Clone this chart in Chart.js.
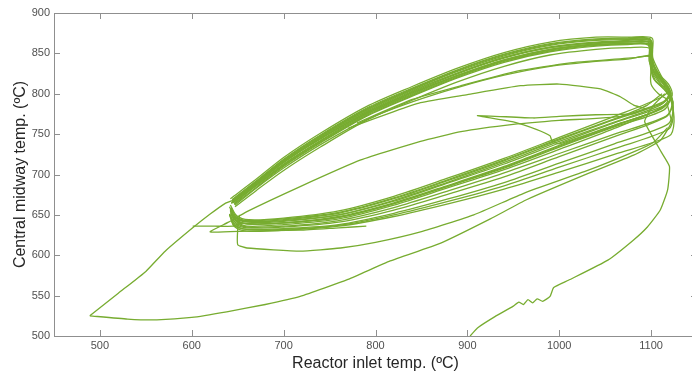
<!DOCTYPE html>
<html>
<head>
<meta charset="utf-8">
<script src="https://cdn.jsdelivr.net/npm/chart.js@4.4.1/dist/chart.umd.min.js"></script>
<style>
  html, body { margin: 0; padding: 0; background: #ffffff; overflow: hidden; }
  canvas { display: block; }
</style>
</head>
<body>
<canvas id="loops" width="698" height="377"></canvas>
<script>
'use strict'

// axis ticks
const xTicks = [500, 600, 700, 800, 900, 1000, 1100]
const yTicks = [500, 550, 600, 650, 700, 750, 800, 850, 900]

// [inlet temp, midway temp] pairs, one array per trace
const startDiag = [[489, 525], [520, 553], [550, 580], [571, 605], [601, 634], [620, 651], [636, 664], [645, 668]]
const startFlat = [[489, 525], [530, 521], [562, 520], [600, 523], [638, 530], [680, 539], [718, 549], [770, 570],
  [816, 593], [871, 615], [925, 645], [965, 669], [1031, 701], [1081, 724], [1110, 742], [1122, 765], [1118, 785]]
const coldRise = [[903, 500], [911, 510], [930, 524], [950, 537], [956, 542], [961, 539], [966, 545], [971, 541],
  [976, 546], [982, 543], [990, 549], [994, 560], [1010, 569], [1053, 594], [1080, 618], [1096, 635], [1110, 656],
  [1118, 681], [1120, 710], [1111, 728], [1100, 750], [1093, 766], [1102, 785], [1115, 800]]
const knotFlat = [[601, 636], [625, 636], [645, 636], [655, 640]]
const spurLow = [[652, 650], [650, 632], [650, 613], [660, 609], [718, 605], [762, 609], [800, 616], [849, 629],
  [907, 650], [962, 677], [1031, 705], [1081, 728], [1103, 740], [1118, 758]]
const riseMid = [[790, 636], [760, 634], [718, 631], [660, 630], [620, 629], [640, 641], [660, 654], [718, 685],
  [784, 718], [849, 741], [893, 753], [950, 762], [1000, 767], [1067, 772], [1096, 786], [1112, 800]]
const tipReturn = [[1095, 781], [1080, 775], [1040, 774], [1000, 772], [972, 770], [911, 773], [951, 765],
  [975, 756], [990, 748], [992, 742], [1000, 738], [1050, 757], [1100, 776]]
const upperThinA = [[770, 757], [820, 778], [849, 789], [900, 799], [958, 810], [1000, 812], [1045, 806],
  [1067, 796], [1081, 786], [1096, 781]]
const upperThinB = [[780, 764], [840, 793], [893, 810], [954, 828], [1010, 838], [1085, 845], [1100, 848]]

const cycle01 = [[644, 668], [670, 691], [700, 718], [740, 748], [790, 781], [840, 806], [890, 829], [940, 848],
  [990, 861], [1040, 867], [1075, 868], [1099, 867], [1100, 845], [1103, 826], [1115, 810], [1122, 800],
  [1112, 788], [1060, 768], [1000, 743], [940, 717], [880, 693], [820, 670], [760, 652], [700, 644], [660, 642],
  [647, 648], [641, 660]]
const cycle02 = [[646, 663], [670, 684], [700, 710], [740, 739], [790, 772], [840, 797], [890, 820], [940, 839],
  [990, 852], [1040, 859], [1075, 861], [1097, 860], [1099, 838], [1104, 818], [1116, 803], [1121, 792],
  [1108, 780], [1060, 760], [1000, 735], [940, 709], [880, 686], [820, 664], [760, 647], [700, 640], [662, 639],
  [648, 644], [643, 654]]
const cycle03 = [[643, 665], [670, 689], [700, 715], [740, 745], [790, 778], [840, 803], [890, 826], [940, 845],
  [990, 858], [1040, 864], [1075, 865], [1100, 864], [1101, 842], [1108, 825], [1119, 812], [1123, 798],
  [1115, 785], [1060, 757], [1000, 731], [940, 706], [880, 684], [820, 662], [760, 645], [700, 638], [660, 636],
  [648, 642], [642, 652]]
const cycle04 = [[647, 660], [670, 680], [700, 705], [740, 734], [790, 767], [840, 792], [890, 815], [940, 834],
  [990, 848], [1040, 855], [1075, 857], [1099, 856], [1100, 835], [1109, 815], [1120, 800], [1124, 788],
  [1116, 772], [1060, 750], [1000, 726], [940, 702], [880, 680], [820, 659], [760, 643], [700, 636], [660, 635],
  [647, 641], [641, 651]]
const cycle05 = [[642, 670], [670, 694], [700, 721], [740, 751], [790, 784], [840, 809], [890, 832], [940, 851],
  [990, 864], [1040, 870], [1075, 870], [1101, 869], [1101, 850], [1102, 830], [1112, 815], [1120, 805],
  [1110, 795], [1060, 772], [1000, 746], [940, 720], [880, 696], [820, 673], [760, 655], [700, 646], [662, 644],
  [649, 649], [642, 662]]
const cycle06 = [[645, 667], [670, 690], [700, 716], [740, 746], [790, 779], [840, 804], [890, 826], [940, 845],
  [990, 857], [1040, 863], [1075, 864], [1098, 863], [1100, 842], [1110, 822], [1121, 800], [1124, 780],
  [1118, 762], [1060, 738], [1000, 714], [940, 690], [880, 670], [820, 652], [760, 638], [700, 633], [660, 632],
  [646, 638], [641, 650]]
const cycle07 = [[646, 664], [670, 686], [700, 712], [740, 741], [790, 774], [840, 799], [890, 822], [940, 841],
  [990, 854], [1040, 861], [1075, 862], [1099, 861], [1101, 838], [1112, 815], [1122, 790], [1125, 765],
  [1120, 748], [1060, 725], [1000, 703], [940, 682], [880, 664], [820, 648], [760, 636], [700, 631], [660, 630],
  [646, 636], [642, 648]]
const cycle08 = [[644, 667], [670, 689], [700, 716], [740, 744], [790, 777], [840, 802], [890, 825], [940, 844],
  [990, 857], [1040, 863], [1075, 864], [1100, 863], [1100, 832], [1100, 812], [1108, 800], [1118, 792],
  [1112, 784], [1060, 764], [1000, 739], [940, 713], [880, 690], [820, 667], [760, 650], [700, 642], [660, 641],
  [646, 647], [642, 657]]
const cycle09 = [[645, 665], [670, 687], [700, 713], [740, 742], [790, 775], [840, 800], [890, 823], [940, 842],
  [990, 855], [1040, 861], [1075, 862], [1097, 861], [1098, 840], [1105, 826], [1117, 812], [1121, 800],
  [1110, 786], [1060, 765], [1000, 741], [940, 715], [880, 691], [820, 668], [760, 650], [700, 643], [660, 642],
  [647, 647], [643, 658]]
const cycle10 = [[647, 662], [670, 683], [700, 708], [740, 737], [790, 768], [840, 790], [890, 808], [940, 823],
  [990, 834], [1040, 840], [1075, 843], [1099, 846], [1104, 830], [1114, 812], [1121, 798], [1114, 780],
  [1060, 759], [1000, 734], [940, 708], [880, 686], [820, 664], [760, 647], [700, 640], [660, 639], [646, 645],
  [642, 655]]
const cycle11 = [[644, 669], [670, 692], [700, 719], [740, 749], [790, 782], [840, 807], [890, 830], [940, 849],
  [990, 862], [1040, 868], [1075, 869], [1099, 868], [1100, 848], [1106, 828], [1118, 808], [1123, 790],
  [1117, 772], [1060, 747], [1000, 722], [940, 697], [880, 676], [820, 656], [760, 641], [700, 635], [660, 634],
  [646, 640], [641, 651]]
const cycle12 = [[646, 666], [670, 688], [700, 715], [740, 744], [790, 776], [840, 801], [890, 823], [940, 842],
  [990, 855], [1040, 862], [1075, 866], [1098, 866], [1099, 846], [1101, 828], [1110, 812], [1120, 802],
  [1113, 790], [1060, 769], [1000, 744], [940, 718], [880, 694], [820, 671], [760, 653], [700, 645], [660, 643],
  [648, 648], [643, 659]]
const cycle13 = [[645, 668], [670, 690], [700, 717], [740, 747], [790, 780], [840, 805], [890, 828], [940, 847],
  [990, 860], [1040, 866], [1075, 867], [1100, 866], [1102, 844], [1112, 820], [1122, 795], [1124, 772],
  [1119, 756], [1060, 732], [1000, 709], [940, 686], [880, 667], [820, 650], [760, 637], [700, 632], [660, 632],
  [646, 637], [642, 649]]
const cycle14 = [[643, 664], [670, 686], [700, 711], [740, 740], [790, 773], [840, 798], [890, 821], [940, 840],
  [990, 853], [1040, 860], [1075, 862], [1098, 861], [1099, 836], [1103, 818], [1116, 804], [1121, 794],
  [1111, 781], [1060, 761], [1000, 736], [940, 710], [880, 687], [820, 665], [760, 648], [700, 640], [660, 639],
  [646, 645], [642, 656]]

const cycles = [cycle01, cycle02, cycle03, cycle04, cycle05, cycle06, cycle07,
  cycle08, cycle09, cycle10, cycle11, cycle12, cycle13, cycle14]
const traces = [startDiag, startFlat, coldRise, knotFlat, spurLow, riseMid, tipReturn, upperThinA, upperThinB]

const lineColor = '#77ac30'
const frameColor = '#8f8f8f'
const fontFamily = "'Liberation Sans', Arial, sans-serif"

function toDataset(pts, tension) {
  return {
    data: pts.map(([x, y]) => ({ x, y })),
    showLine: true,
    borderColor: lineColor,
    borderWidth: 1.3,
    pointRadius: 0,
    pointHoverRadius: 0,
    fill: false,
    tension
  }
}

// box on, ticks pointing inward on all four sides
const frameTicks = {
  id: 'frameTicks',
  afterDraw(chart) {
    const { ctx, chartArea: a, scales: { x, y } } = chart
    const len = 6
    ctx.save()
    ctx.strokeStyle = frameColor
    ctx.lineWidth = 1
    ctx.beginPath()
    ctx.rect(a.left + 0.5, a.top + 0.5, a.right - a.left, a.bottom - a.top)
    xTicks.forEach((v) => {
      const px = Math.round(x.getPixelForValue(v)) + 0.5
      ctx.moveTo(px, a.bottom)
      ctx.lineTo(px, a.bottom - len)
      ctx.moveTo(px, a.top)
      ctx.lineTo(px, a.top + len)
    })
    yTicks.forEach((v) => {
      const py = Math.round(y.getPixelForValue(v)) + 0.5
      ctx.moveTo(a.left, py)
      ctx.lineTo(a.left + len, py)
      ctx.moveTo(a.right, py)
      ctx.lineTo(a.right - len, py)
    })
    ctx.stroke()
    ctx.restore()
  }
}

Chart.defaults.font.family = fontFamily

new Chart(document.getElementById('loops'), {
  type: 'scatter',
  data: {
    datasets: [
      ...cycles.map((c) => toDataset(c, 0.3)),
      ...traces.map((t) => toDataset(t, 0.15))
    ]
  },
  options: {
    responsive: false,
    animation: false,
    events: [],
    layout: { padding: { top: 13, right: 1, left: 0, bottom: 0 } },
    plugins: {
      legend: { display: false },
      tooltip: { enabled: false }
    },
    scales: {
      x: {
        type: 'linear',
        min: 450,
        max: 1150,
        afterBuildTicks(scale) {
          scale.ticks = xTicks.map((value) => ({ value }))
        },
        afterFit(scale) {
          scale.height = 41
        },
        grid: { display: false, drawTicks: false },
        border: { display: false },
        ticks: {
          color: '#505050',
          padding: 3,
          font: { size: 11 },
          maxRotation: 0,
          callback: (v) => String(v)
        },
        title: {
          display: true,
          text: 'Reactor inlet temp. (ºC)',
          color: '#262626',
          font: { size: 16 },
          padding: { top: 0, bottom: 4 }
        }
      },
      y: {
        type: 'linear',
        min: 500,
        max: 900,
        afterBuildTicks(scale) {
          scale.ticks = yTicks.map((value) => ({ value }))
        },
        afterFit(scale) {
          scale.width = 54
        },
        grid: { display: false, drawTicks: false },
        border: { display: false },
        ticks: {
          color: '#505050',
          padding: 4,
          font: { size: 11 },
          callback: (v) => String(v)
        },
        title: {
          display: true,
          text: 'Central midway temp. (ºC)',
          color: '#262626',
          font: { size: 16 },
          padding: { top: 11, bottom: 0 }
        }
      }
    }
  },
  plugins: [frameTicks]
})
</script>
</body>
</html>
